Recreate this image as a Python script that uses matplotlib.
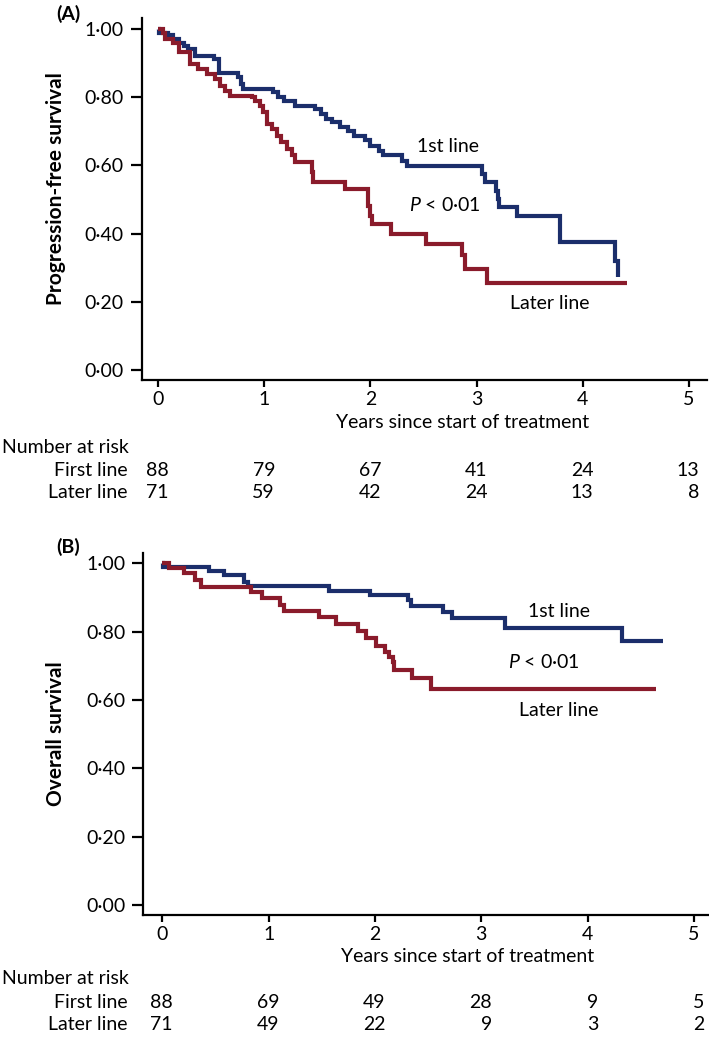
import matplotlib
matplotlib.use("Agg")
import matplotlib.pyplot as plt
from matplotlib.transforms import blended_transform_factory

plt.rcParams['font.family'] = ['Lato', 'DejaVu Sans']
plt.rcParams['mathtext.fontset'] = 'custom'
plt.rcParams['mathtext.it'] = 'Lato:italic'
plt.rcParams['mathtext.rm'] = 'Lato'

# %% data
# (A) progression-free survival
pfs_first_t = [0, 0.01, 0.09, 0.14, 0.19, 0.24, 0.28, 0.35, 0.52, 0.57, 0.75, 0.78, 0.80,
               1.08, 1.13, 1.18, 1.29, 1.48, 1.53, 1.58, 1.64, 1.71, 1.79, 1.84, 1.95,
               2.00, 2.08, 2.12, 2.30, 2.34, 3.05, 3.08, 3.18, 3.20, 3.21, 3.38, 3.79,
               4.31, 4.33]
pfs_first_s = [1.0, 0.989, 0.982, 0.970, 0.960, 0.950, 0.941, 0.921, 0.911, 0.872, 0.858,
               0.838, 0.824, 0.814, 0.799, 0.789, 0.775, 0.765, 0.751, 0.736, 0.726, 0.711,
               0.702, 0.687, 0.673, 0.658, 0.643, 0.629, 0.614, 0.599, 0.575, 0.550, 0.526,
               0.502, 0.478, 0.453, 0.375, 0.320, 0.273]
pfs_first_end = 4.33

pfs_later_t = [0, 0.047, 0.063, 0.14, 0.19, 0.30, 0.377, 0.456, 0.53, 0.58, 0.63, 0.676,
               0.88, 0.91, 0.96, 0.99, 1.02, 1.07, 1.12, 1.16, 1.21, 1.26, 1.29, 1.45,
               1.46, 1.76, 1.98, 2.00, 2.01, 2.19, 2.52, 2.86, 2.89, 3.10]
pfs_later_s = [1.0, 0.989, 0.970, 0.960, 0.931, 0.896, 0.882, 0.867, 0.853, 0.833, 0.819,
               0.804, 0.799, 0.789, 0.775, 0.755, 0.721, 0.707, 0.687, 0.668, 0.648, 0.629,
               0.609, 0.580, 0.551, 0.531, 0.482, 0.453, 0.429, 0.400, 0.370, 0.336, 0.297,
               0.255]
pfs_later_end = 4.42

# (B) overall survival
os_first_t = [0, 0.01, 0.44, 0.58, 0.77, 0.81, 1.57, 1.95, 2.31, 2.34, 2.64, 2.72, 3.22, 4.32]
os_first_s = [1.0, 0.989, 0.977, 0.966, 0.945, 0.933, 0.920, 0.907, 0.892, 0.876, 0.858,
              0.839, 0.810, 0.773]
os_first_end = 4.71

os_later_t = [0, 0.06, 0.20, 0.31, 0.36, 0.83, 0.94, 1.11, 1.14, 1.47, 1.63, 1.84, 1.92,
              2.01, 2.09, 2.13, 2.17, 2.18, 2.35, 2.53]
os_later_s = [1.0, 0.986, 0.971, 0.951, 0.932, 0.917, 0.898, 0.878, 0.861, 0.844, 0.822,
              0.803, 0.780, 0.758, 0.741, 0.727, 0.712, 0.688, 0.663, 0.631]
os_later_end = 4.64

years = [0, 1, 2, 3, 4, 5]
year_labels = ['0', '1', '2', '3', '4', '5']
surv_ticks = [0, 0.2, 0.4, 0.6, 0.8, 1.0]
surv_labels = ['0·00', '0·20', '0·40', '0·60', '0·80', '1·00']

risk_rows = ['First line', 'Later line']
pfs_risk_first = [88, 79, 67, 41, 24, 13]
pfs_risk_later = [71, 59, 42, 24, 13, 8]
os_risk_first = [88, 69, 49, 28, 9, 5]
os_risk_later = [71, 49, 22, 9, 3, 2]

blue = '#1b2e6b'
red = '#8a1b2b'
fs = 14
fs_ylab = 15

W, H = 709, 1038
fig = plt.figure(figsize=(W / 100, H / 100), dpi=100)


def fy(py):
    return 1 - py / H


def km(ax, t, s, end, color):
    ax.step(t + [end], s + [s[-1]], where='post', color=color, lw=3.0,
            solid_joinstyle='miter', solid_capstyle='butt')


def panel(box, xlim, letter, ylabel, curves, notes, risk, ty):
    ax = fig.add_axes(box)
    for t, s, end, c in curves:
        km(ax, t, s, end, c)
    ax.set_xlim(*xlim)
    ax.set_ylim(-0.029, 1.031)
    for side in ['top', 'right']:
        ax.spines[side].set_visible(False)
    for side in ['left', 'bottom']:
        ax.spines[side].set_linewidth(1.6)
    ax.set_yticks(surv_ticks)
    ax.set_yticklabels(surv_labels, fontsize=fs)
    ax.set_xticks(years)
    ax.set_xticklabels(year_labels, fontsize=fs)
    ax.tick_params(axis='y', length=8, width=1.6, pad=5)
    ax.tick_params(axis='x', length=5, width=1.6, pad=3)
    ax.set_ylabel(ylabel, fontsize=fs_ylab, fontweight='bold')
    ax.yaxis.set_label_coords(-(box[0] * W - 66) / (box[2] * W), ty['ylab'])
    fig.text(68 / W, fy(ty['letter']), letter, fontsize=fs, fontweight='bold',
             ha='center', va='center')
    for x, y, txt in notes:
        ax.text(x, y, txt, fontsize=fs, ha='center', va='center')
    tr = blended_transform_factory(ax.transData, fig.transFigure)
    ax.text(2.87, fy(ty['xlabel']), 'Years since start of treatment', fontsize=fs,
            ha='center', va='center', transform=tr)
    fig.text(2 / W, fy(ty['nar']), 'Number at risk', fontsize=fs, ha='left', va='center')
    for row, vals, key in zip(risk_rows, risk, ['first', 'later']):
        fig.text(128 / W, fy(ty[key]), row, fontsize=fs, ha='right', va='center')
        for x, v in zip(years, vals):
            ax.text(x + 0.1, fy(ty[key]), str(v), fontsize=fs, ha='right', va='center',
                    transform=tr)
    return ax


panel([141.7 / W, fy(380), 565 / W, (380 - 18.3) / H], (-0.157, 5.17), '(A)',
      'Progression-free survival',
      [(pfs_first_t, pfs_first_s, pfs_first_end, blue),
       (pfs_later_t, pfs_later_s, pfs_later_end, red)],
      [(2.73, 0.654, '1st line'), (2.70, 0.484, '$P$ < 0·01'), (3.69, 0.194, 'Later line')],
      [pfs_risk_first, pfs_risk_later],
      {'letter': 14, 'xlabel': 423, 'nar': 448, 'first': 470, 'later': 492, 'ylab': 0.53})

panel([143.3 / W, fy(915), 565.5 / W, (915 - 552.7) / H], (-0.179, 5.14), '(B)',
      'Overall survival',
      [(os_first_t, os_first_s, os_first_end, blue),
       (os_later_t, os_later_s, os_later_end, red)],
      [(3.735, 0.859, '1st line'), (3.59, 0.711, '$P$ < 0·01'), (3.73, 0.568, 'Later line')],
      [os_risk_first, os_risk_later],
      {'letter': 547, 'xlabel': 957, 'nar': 979, 'first': 1002, 'later': 1024, 'ylab': 0.5})

fig.savefig('out.png', dpi=100)
